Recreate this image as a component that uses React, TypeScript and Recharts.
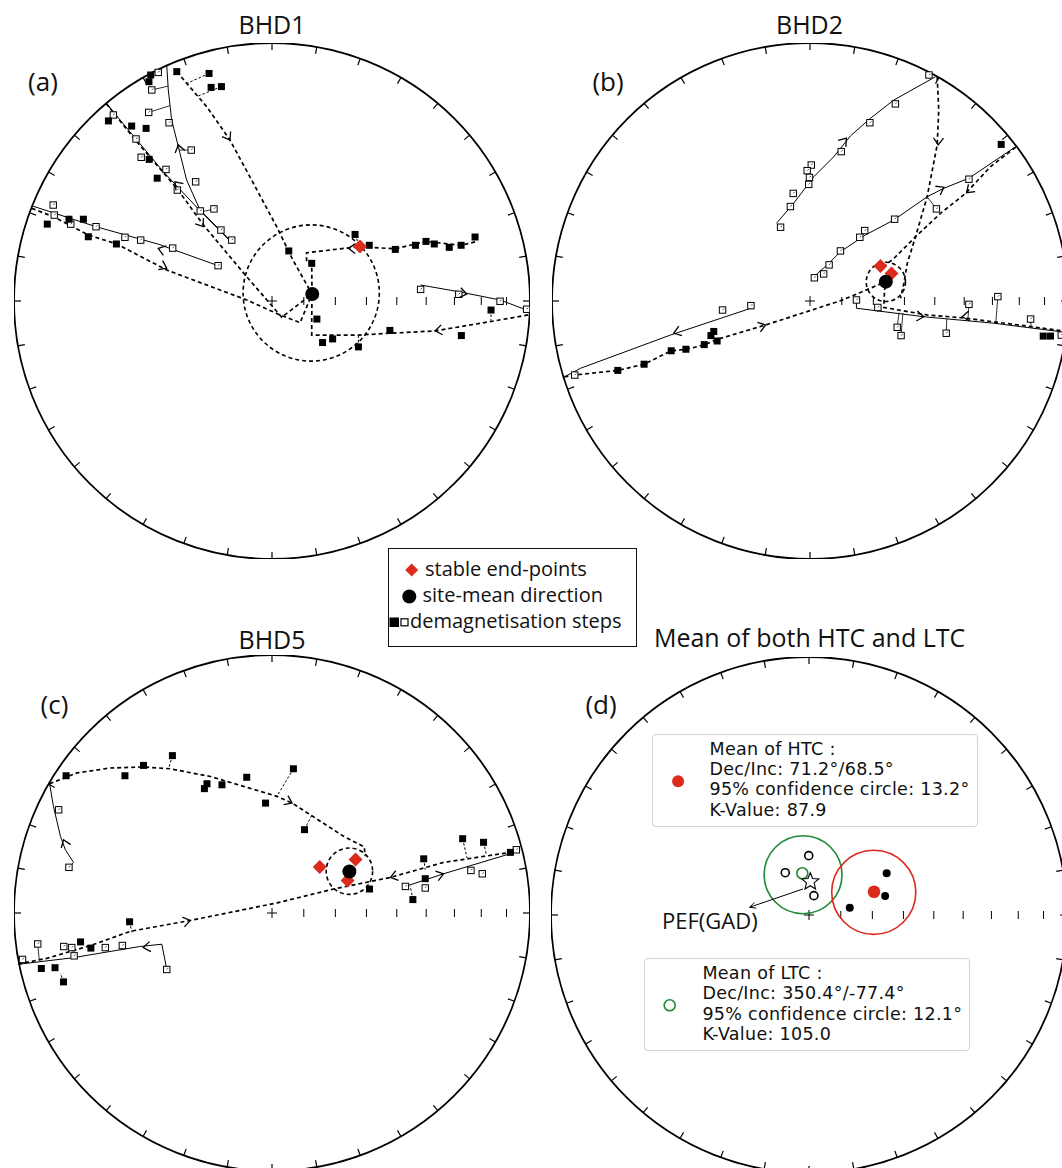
import React from "react";
import { ScatterChart, Scatter, XAxis, YAxis } from "recharts";

type Pt = [number, number];
type Arrow = [number, number, number]; // x, y, heading in degrees (0 = east, counter-clockwise)

const R = 258;
const PAD = 10;
const SIZE = 2 * R + 2 * PAD;
const DEG = Math.PI / 180;
const RED = "#dc2b1c";
const GREEN = "#1f8a35";
const FONT = "'Open Sans', sans-serif";

// net furniture
const RIM_TICKS = [0, 10, 20, 30, 40, 50, 60, 70, 80, 90, 100, 110, 120, 130, 140, 150, 160, 170,
  180, 190, 200, 210, 220, 230, 240, 250, 260, 270, 280, 290, 300, 310, 320, 330, 340, 350];
const INC_TICKS = [80, 70, 60, 50, 40, 30, 20, 10];

// ---------- (a) BHD1 ----------
const A_FILLED: Pt[] = [
  [-0.47, 0.876], [-0.477, 0.85], [-0.369, 0.889], [-0.244, 0.882], [-0.236, 0.828], [-0.196, 0.831],
  [-0.634, 0.698], [-0.544, 0.678], [-0.488, 0.669], [-0.476, 0.549], [-0.445, 0.476],
  [-0.871, 0.298], [-0.787, 0.317], [-0.731, 0.317], [-0.712, 0.249], [-0.603, 0.221],
  [0.065, 0.194], [0.154, 0.146], [0.322, 0.258], [0.377, 0.216], [0.478, 0.2], [0.556, 0.216],
  [0.597, 0.231], [0.629, 0.221], [0.687, 0.208], [0.733, 0.216], [0.787, 0.248],
  [0.174, -0.07], [0.196, -0.161], [0.235, -0.147], [0.335, -0.178], [0.457, -0.114], [0.734, -0.134], [0.849, -0.035],
];
const A_OPEN: Pt[] = [
  [-0.441, 0.886], [-0.466, 0.818], [-0.478, 0.731], [-0.399, 0.691], [-0.313, 0.585], [-0.296, 0.462], [-0.225, 0.357],
  [-0.615, 0.721], [-0.527, 0.628], [-0.507, 0.557], [-0.411, 0.51], [-0.367, 0.43], [-0.278, 0.349], [-0.198, 0.275], [-0.156, 0.236],
  [-0.848, 0.372], [-0.844, 0.333], [-0.78, 0.298], [-0.682, 0.288], [-0.57, 0.247], [-0.509, 0.236], [-0.385, 0.205], [-0.209, 0.137],
  [0.576, 0.045], [0.724, 0.026], [0.884, -0.001], [0.987, -0.032],
];
const A_DIAMONDS: Pt[] = [[0.341, 0.211]];
const A_MEAN: Pt[] = [[0.156, 0.027]];
const A_CIRCLE = [{ x: 0.152, y: 0.031, r: 0.264 }];
const A_SOLID: Pt[][] = [
  [[-0.643, 0.766], [-0.527, 0.628], [-0.42, 0.5], [-0.278, 0.349], [-0.16, 0.23]],
  [[-0.408, 0.915], [-0.402, 0.818], [-0.389, 0.702], [-0.363, 0.598], [-0.331, 0.469], [-0.279, 0.353], [-0.163, 0.236]],
  [[-0.931, 0.369], [-0.682, 0.288], [-0.44, 0.22], [-0.209, 0.137]],
  [[0.576, 0.062], [0.724, 0.036], [0.884, 0.004], [0.987, -0.035]],
];
const A_DASHED: Pt[][] = [
  [[-0.643, 0.766], [-0.524, 0.617], [-0.369, 0.437], [-0.266, 0.295], [-0.098, 0.094], [0.038, -0.063], [0.155, 0.027]],
  [[-0.931, 0.359], [-0.848, 0.327], [-0.712, 0.256], [-0.602, 0.221], [-0.408, 0.12], [-0.098, 0.004], [0.031, -0.054], [0.109, -0.084], [0.155, 0.027]],
  [[-0.369, 0.889], [-0.253, 0.753], [-0.163, 0.624], [-0.072, 0.456], [0.018, 0.288], [0.081, 0.159], [0.155, 0.027]],
  [[0.787, 0.229], [0.733, 0.216], [0.597, 0.231], [0.477, 0.202], [0.341, 0.211], [0.134, 0.187], [0.134, 0.151], [0.154, 0.143], [0.155, 0.027]],
  [[0.993, -0.054], [0.845, -0.08], [0.632, -0.116], [0.457, -0.125], [0.335, -0.132], [0.154, -0.132], [0.154, -0.074], [0.155, 0.027]],
];
const A_SOLID_LINKS: Pt[][] = [
  [[-0.466, 0.818], [-0.402, 0.833]], [[-0.478, 0.731], [-0.396, 0.757]],
  [[-0.313, 0.585], [-0.36, 0.585]], [[-0.225, 0.357], [-0.274, 0.345]],
];
const A_DASHED_LINKS: Pt[][] = [
  [[-0.244, 0.882], [-0.331, 0.843]], [[-0.196, 0.831], [-0.292, 0.792]],
  [[0.849, -0.035], [0.849, -0.075]], [[0.335, -0.178], [0.335, -0.132]], [[0.322, 0.258], [0.335, 0.222]],
];
const A_ARROWS: Arrow[] = [
  [-0.363, 0.605, 104], [-0.376, 0.462, 132], [-0.266, 0.288, -54], [-0.441, 0.204, 162], [-0.408, 0.127, -26],
  [-0.163, 0.624, -59], [0.296, 0.204, 178], [0.632, -0.116, 189], [0.755, 0.027, -11],
];

// ---------- (b) BHD2 ----------
const B_FILLED: Pt[] = [
  [0.741, 0.607], [-0.745, -0.269], [-0.643, -0.245], [-0.538, -0.193], [-0.481, -0.187], [-0.41, -0.169],
  [-0.384, -0.134], [-0.373, -0.118], [-0.36, -0.155], [0.904, -0.136], [0.932, -0.136],
];
const B_OPEN: Pt[] = [
  [0.461, 0.876], [0.331, 0.764], [0.232, 0.691], [0.121, 0.579], [0.005, 0.527], [-0.011, 0.505], [-0.002, 0.479],
  [-0.005, 0.452], [-0.065, 0.417], [-0.076, 0.366], [-0.114, 0.286],
  [0.616, 0.472], [0.49, 0.357], [0.328, 0.317], [0.212, 0.273], [0.193, 0.247], [0.118, 0.194], [0.074, 0.14], [0.053, 0.105], [0.017, 0.09],
  [0.18, 0.004], [0.263, -0.025], [0.338, -0.102], [0.353, -0.134], [0.528, -0.125], [0.616, -0.013], [0.728, 0.017], [0.855, -0.07], [0.974, -0.132],
  [-0.339, -0.035], [-0.229, -0.018], [-0.912, -0.287],
];
const B_DIAMONDS: Pt[] = [[0.273, 0.136], [0.316, 0.107]];
const B_MEAN: Pt[] = [[0.294, 0.075]];
const B_CIRCLE = [{ x: 0.294, y: 0.074, r: 0.076 }];
const B_SOLID: Pt[][] = [
  [[0.486, 0.869], [0.325, 0.779], [0.234, 0.708], [0.157, 0.64], [0.092, 0.559], [0.015, 0.482], [-0.063, 0.379], [-0.13, 0.301]],
  [[0.797, 0.598], [0.616, 0.476], [0.519, 0.437], [0.454, 0.404], [0.325, 0.314], [0.215, 0.256], [0.118, 0.191], [0.073, 0.146], [0.015, 0.094]],
  [[0.18, 0.0], [0.18, -0.028], [0.441, -0.061], [0.712, -0.086], [0.971, -0.119]],
  [[-0.229, -0.028], [-0.541, -0.132], [-0.89, -0.261], [-0.952, -0.294]],
];
const B_DASHED: Pt[][] = [
  [[0.797, 0.596], [0.7, 0.521], [0.603, 0.417], [0.506, 0.34], [0.409, 0.249], [0.325, 0.165], [0.293, 0.14]],
  [[0.493, 0.869], [0.499, 0.74], [0.493, 0.605], [0.454, 0.404], [0.409, 0.249], [0.377, 0.146], [0.364, 0.069], [0.351, 0.01]],
  [[0.971, -0.115], [0.855, -0.099], [0.59, -0.065], [0.454, -0.054], [0.286, -0.025], [0.289, 0.043], [0.294, 0.075]],
  [[-0.952, -0.294], [-0.912, -0.287], [-0.745, -0.269], [-0.643, -0.245], [-0.538, -0.193], [-0.478, -0.187], [-0.406, -0.169],
    [-0.367, -0.151], [-0.172, -0.093], [0.118, 0.001], [0.2, 0.035], [0.294, 0.075]],
];
const B_SOLID_LINKS: Pt[][] = [
  [[0.49, 0.357], [0.454, 0.404]], [[0.338, -0.102], [0.345, -0.045]], [[0.353, -0.134], [0.36, -0.047]],
  [[0.528, -0.125], [0.53, -0.07]], [[0.616, -0.013], [0.612, -0.076]], [[0.728, 0.017], [0.72, -0.087]],
  [[0.855, -0.07], [0.857, -0.101]], [[0.263, -0.025], [0.263, -0.042]],
];
const B_DASHED_LINKS: Pt[][] = [];
const B_ARROWS: Arrow[] = [
  [0.141, 0.631, 51], [0.519, 0.441, 29], [0.607, 0.42, 222], [0.497, 0.605, 268],
  [0.59, -0.061, 186], [0.441, -0.061, -6], [-0.528, -0.125, 199], [-0.172, -0.093, 17],
];

// ---------- (c) BHD5 ----------
const C_FILLED: Pt[] = [
  [-0.798, 0.532], [-0.57, 0.532], [-0.498, 0.572], [-0.386, 0.61], [-0.252, 0.501], [-0.262, 0.482], [-0.194, 0.497],
  [-0.098, 0.526], [0.083, 0.559], [-0.025, 0.426], [0.126, 0.323],
  [0.378, 0.093], [0.588, 0.21], [0.594, 0.133], [0.546, 0.052], [0.739, 0.288], [0.82, 0.274], [0.924, 0.235],
  [-0.552, -0.034], [-0.742, -0.112], [-0.702, -0.136], [-0.894, -0.215], [-0.841, -0.212], [-0.808, -0.267],
];
const C_OPEN: Pt[] = [
  [-0.827, 0.4], [-0.787, 0.177], [0.517, 0.103], [0.594, 0.097], [0.771, 0.165], [0.815, 0.152], [0.947, 0.245],
  [-0.967, -0.18], [-0.908, -0.12], [-0.807, -0.13], [-0.776, -0.134], [-0.767, -0.166], [-0.646, -0.134], [-0.58, -0.126], [-0.408, -0.219],
];
const C_DIAMONDS: Pt[] = [[0.185, 0.178], [0.324, 0.207], [0.293, 0.126]];
const C_MEAN: Pt[] = [[0.3, 0.161]];
const C_CIRCLE = [{ x: 0.3, y: 0.162, r: 0.09 }];
const C_SOLID: Pt[][] = [
  [[-0.862, 0.501], [-0.847, 0.413], [-0.82, 0.297], [-0.801, 0.245], [-0.769, 0.196], [-0.787, 0.177]],
  [[-0.977, -0.198], [-0.776, -0.174], [-0.513, -0.13], [-0.427, -0.121], [-0.408, -0.218]],
  [[0.517, 0.103], [0.665, 0.152], [0.924, 0.23], [0.962, 0.245]],
];
const C_DASHED: Pt[][] = [
  [[-0.862, 0.501], [-0.756, 0.543], [-0.627, 0.562], [-0.498, 0.566], [-0.394, 0.559], [-0.239, 0.529], [-0.11, 0.491],
    [0.019, 0.452], [0.078, 0.426], [0.148, 0.381], [0.278, 0.297], [0.358, 0.256], [0.36, 0.22]],
  [[-0.984, -0.198], [-0.87, -0.175], [-0.7, -0.125], [-0.549, -0.071], [-0.317, -0.029], [0.019, 0.039], [0.239, 0.093],
    [0.381, 0.122], [0.459, 0.138], [0.665, 0.196], [0.924, 0.235], [0.962, 0.248]],
];
const C_SOLID_LINKS: Pt[][] = [[[-0.908, -0.12], [-0.902, -0.184]]];
const C_DASHED_LINKS: Pt[][] = [
  [[0.588, 0.21], [0.594, 0.168]], [[0.739, 0.288], [0.756, 0.213]], [[0.82, 0.274], [0.831, 0.226]],
  [[0.546, 0.052], [0.536, 0.104]], [[-0.386, 0.61], [-0.4, 0.563]], [[0.083, 0.559], [0.019, 0.452]],
  [[0.126, 0.323], [0.154, 0.379]], [[-0.552, -0.034], [-0.543, -0.075]], [[-0.808, -0.267], [-0.82, -0.233]],
];
const C_ARROWS: Arrow[] = [
  [0.078, 0.426, -25], [-0.808, 0.284, 110], [-0.317, -0.029, 12], [0.459, 0.138, 196], [-0.499, -0.134, 188], [0.665, 0.152, 17],
];

// ---------- (d) means ----------
const D_HTC_SITES: Pt[] = [[0.301, 0.162], [0.295, 0.074], [0.158, 0.028]];
const D_LTC_SITES: Pt[] = [[-0.001, 0.23], [-0.092, 0.164], [0.019, 0.075]];
const D_HTC_MEAN: Pt[] = [[0.252, 0.09]];
const D_LTC_MEAN: Pt[] = [[-0.026, 0.162]];
const D_HTC_CIRCLE = [{ x: 0.251, y: 0.088, r: 0.163 }];
const D_LTC_CIRCLE = [{ x: -0.023, y: 0.156, r: 0.151 }];
const D_GAD: Pt[] = [[0.005, 0.129]];
const D_POINTER: Pt[] = [[-0.023, 0.101], [-0.23, 0.03]];
const D_POINTER_HEAD: Arrow[] = [[-0.23, 0.03, 199]];

const HTC_LINES = ["Mean of HTC :", "Dec/Inc: 71.2°/68.5°", "95% confidence circle: 13.2°", "K-Value: 87.9"];
const LTC_LINES = ["Mean of LTC :", "Dec/Inc: 350.4°/-77.4°", "95% confidence circle: 12.1°", "K-Value: 105.0"];

const toXY = (pts: Pt[]) => pts.map(([x, y]) => ({ x, y }));
const toArrows = (a: Arrow[]) => a.map(([x, y, dir]) => ({ x, y, dir }));
const RIM_DATA = RIM_TICKS.map((az) => ({ x: Math.sin(az * DEG), y: Math.cos(az * DEG), az }));
const INC_DATA = INC_TICKS.map((inc) => ({ x: Math.SQRT2 * Math.sin(((90 - inc) / 2) * DEG), y: 0 }));

const SOLID_LINE = { stroke: "#000", strokeWidth: 1 };
const DASHED_LINE = { stroke: "#000", strokeWidth: 1.7, strokeDasharray: "4 3" };
const SOLID_LINK = { stroke: "#000", strokeWidth: 0.8 };
const DASHED_LINK = { stroke: "#000", strokeWidth: 1, strokeDasharray: "2.5 2" };

const noShape = () => <g />;
const primitive = (p: any) => <circle cx={p.cx} cy={p.cy} r={R} fill="none" stroke="#000" strokeWidth={1.8} />;
const rimTick = (p: any) => {
  const a = p.payload.az * DEG;
  return <line x1={p.cx} y1={p.cy} x2={p.cx - 7 * Math.sin(a)} y2={p.cy + 7 * Math.cos(a)} stroke="#000" strokeWidth={1.2} />;
};
const incTick = (p: any) => <line x1={p.cx} y1={p.cy - 4} x2={p.cx} y2={p.cy + 4} stroke="#000" strokeWidth={1} />;
const cross = (p: any) => (
  <g stroke="#000" strokeWidth={1}>
    <line x1={p.cx - 5} y1={p.cy} x2={p.cx + 5} y2={p.cy} />
    <line x1={p.cx} y1={p.cy - 5} x2={p.cx} y2={p.cy + 5} />
  </g>
);
const filledSquare = (p: any) => <rect x={p.cx - 3.5} y={p.cy - 3.5} width={7} height={7} fill="#000" />;
const openSquare = (p: any) => (
  <g>
    <rect x={p.cx - 3.2} y={p.cy - 3.2} width={6.4} height={6.4} fill="#fff" stroke="#000" strokeWidth={1} />
    <line x1={p.cx} y1={p.cy} x2={p.cx + 1.5} y2={p.cy - 1.5} stroke="#000" strokeWidth={0.7} />
  </g>
);
const diamond = (p: any) => (
  <polygon points={`${p.cx},${p.cy - 7} ${p.cx + 7},${p.cy} ${p.cx},${p.cy + 7} ${p.cx - 7},${p.cy}`} fill={RED} />
);
const meanDot = (p: any) => <circle cx={p.cx} cy={p.cy} r={7} fill="#000" />;
const dashedCircle = (p: any) => (
  <circle cx={p.cx} cy={p.cy} r={p.payload.r * R} fill="none" stroke="#000" strokeWidth={1.6} strokeDasharray="4 3" />
);
const makeChevron = (len: number, half: number, width: number) => (p: any) => {
  const t = p.payload.dir * DEG;
  const dx = Math.cos(t);
  const dy = -Math.sin(t);
  const bx = p.cx - len * dx;
  const by = p.cy - len * dy;
  return (
    <polyline
      points={`${bx - half * dy},${by + half * dx} ${p.cx},${p.cy} ${bx + half * dy},${by - half * dx}`}
      fill="none"
      stroke="#000"
      strokeWidth={width}
    />
  );
};
const chevron = makeChevron(7, 5, 1.3);
const smallHead = makeChevron(6, 3, 1);
const colorCircle = (color: string) => (p: any) => (
  <circle cx={p.cx} cy={p.cy} r={p.payload.r * R} fill="none" stroke={color} strokeWidth={1.6} />
);
const blackDot = (p: any) => <circle cx={p.cx} cy={p.cy} r={4} fill="#000" />;
const ringDot = (p: any) => <circle cx={p.cx} cy={p.cy} r={4} fill="#fff" stroke="#000" strokeWidth={1.6} />;
const redDot = (p: any) => <circle cx={p.cx} cy={p.cy} r={6.3} fill={RED} />;
const greenRing = (p: any) => <circle cx={p.cx} cy={p.cy} r={5.5} fill="none" stroke={GREEN} strokeWidth={1.6} />;
const star = (p: any) => {
  const pts: string[] = [];
  for (let i = 0; i < 10; i++) {
    const rr = i % 2 === 0 ? 9 : 4;
    const a = (-90 + i * 36) * DEG;
    pts.push(`${p.cx + rr * Math.cos(a)},${p.cy + rr * Math.sin(a)}`);
  }
  return <polygon points={pts.join(" ")} fill="#fff" stroke="#000" strokeWidth={1.1} />;
};

type NetProps = {
  left: number;
  top: number;
  filled?: Pt[];
  open?: Pt[];
  diamonds?: Pt[];
  mean?: Pt[];
  circle?: { x: number; y: number; r: number }[];
  solid?: Pt[][];
  dashed?: Pt[][];
  solidLinks?: Pt[][];
  dashedLinks?: Pt[][];
  arrows?: Arrow[];
  children?: React.ReactNode;
};

function Stereonet({
  left, top, filled = [], open = [], diamonds = [], mean = [], circle = [],
  solid = [], dashed = [], solidLinks = [], dashedLinks = [], arrows = [], children,
}: NetProps) {
  return (
    <div style={{ position: "absolute", left, top }}>
      <ScatterChart width={SIZE} height={SIZE} margin={{ top: PAD, right: PAD, bottom: PAD, left: PAD }}>
        <XAxis type="number" dataKey="x" domain={[-1, 1]} hide allowDataOverflow />
        <YAxis type="number" dataKey="y" domain={[-1, 1]} hide allowDataOverflow />
        <Scatter data={[{ x: 0, y: 0 }]} shape={primitive} isAnimationActive={false} />
        <Scatter data={RIM_DATA} shape={rimTick} isAnimationActive={false} />
        <Scatter data={[{ x: 0, y: 0 }]} shape={cross} isAnimationActive={false} />
        <Scatter data={INC_DATA} shape={incTick} isAnimationActive={false} />
        {solid.map((p, i) => (
          <Scatter key={`s${i}`} data={toXY(p)} line={SOLID_LINE} shape={noShape} isAnimationActive={false} />
        ))}
        {dashed.map((p, i) => (
          <Scatter key={`d${i}`} data={toXY(p)} line={DASHED_LINE} shape={noShape} isAnimationActive={false} />
        ))}
        {solidLinks.map((p, i) => (
          <Scatter key={`sl${i}`} data={toXY(p)} line={SOLID_LINK} shape={noShape} isAnimationActive={false} />
        ))}
        {dashedLinks.map((p, i) => (
          <Scatter key={`dl${i}`} data={toXY(p)} line={DASHED_LINK} shape={noShape} isAnimationActive={false} />
        ))}
        <Scatter data={circle} shape={dashedCircle} isAnimationActive={false} />
        <Scatter data={toXY(open)} shape={openSquare} isAnimationActive={false} />
        <Scatter data={toXY(filled)} shape={filledSquare} isAnimationActive={false} />
        <Scatter data={toArrows(arrows)} shape={chevron} isAnimationActive={false} />
        <Scatter data={toXY(diamonds)} shape={diamond} isAnimationActive={false} />
        <Scatter data={toXY(mean)} shape={meanDot} isAnimationActive={false} />
        {children}
      </ScatterChart>
    </div>
  );
}

function Text({ x, y, size, children, center = true, family = FONT }: {
  x: number; y: number; size: number; children: React.ReactNode; center?: boolean; family?: string;
}) {
  return (
    <div
      style={{
        position: "absolute",
        left: x,
        top: y,
        fontSize: size,
        fontFamily: family,
        lineHeight: 1,
        whiteSpace: "nowrap",
        color: "#111",
        transform: center ? "translate(-50%, -52%)" : "translateY(-60%)",
      }}
    >
      {children}
    </div>
  );
}

function InfoBox({ left, top, width, height, lines, marker }: {
  left: number; top: number; width: number; height: number; lines: string[]; marker: React.ReactNode;
}) {
  return (
    <div
      style={{
        position: "absolute",
        left,
        top,
        width,
        height,
        boxSizing: "border-box",
        border: "1.5px solid #d2d2d2",
        borderRadius: 4,
        background: "rgba(255,255,255,0.9)",
      }}
    >
      <svg width={50} height={height - 3} style={{ position: "absolute", left: 0, top: 0 }}>
        {marker}
      </svg>
      {lines.map((l, i) => (
        <div
          key={l}
          style={{
            position: "absolute",
            left: 57,
            top: 6 + i * 20.4,
            fontFamily: "'DejaVu Sans', sans-serif",
            fontSize: 17.5,
            lineHeight: "17.5px",
            letterSpacing: "0.3px",
            whiteSpace: "nowrap",
            color: "#111",
          }}
        >
          {l}
        </div>
      ))}
    </div>
  );
}

export default function App() {
  return (
    <div style={{ position: "absolute", left: 0, top: 0, width: 1062, height: 1168, overflow: "hidden", background: "#fff" }}>
      <Stereonet left={272 - R - PAD} top={301 - R - PAD} filled={A_FILLED} open={A_OPEN} diamonds={A_DIAMONDS}
        mean={A_MEAN} circle={A_CIRCLE} solid={A_SOLID} dashed={A_DASHED} solidLinks={A_SOLID_LINKS}
        dashedLinks={A_DASHED_LINKS} arrows={A_ARROWS} />
      <Stereonet left={809.5 - R - PAD} top={301 - R - PAD} filled={B_FILLED} open={B_OPEN} diamonds={B_DIAMONDS}
        mean={B_MEAN} circle={B_CIRCLE} solid={B_SOLID} dashed={B_DASHED} solidLinks={B_SOLID_LINKS}
        dashedLinks={B_DASHED_LINKS} arrows={B_ARROWS} />
      <Stereonet left={271.7 - R - PAD} top={913.4 - R - PAD} filled={C_FILLED} open={C_OPEN} diamonds={C_DIAMONDS}
        mean={C_MEAN} circle={C_CIRCLE} solid={C_SOLID} dashed={C_DASHED} solidLinks={C_SOLID_LINKS}
        dashedLinks={C_DASHED_LINKS} arrows={C_ARROWS} />
      <Stereonet left={809.3 - R - PAD} top={915 - R - PAD}>
        <Scatter data={D_LTC_CIRCLE} shape={colorCircle(GREEN)} isAnimationActive={false} />
        <Scatter data={D_HTC_CIRCLE} shape={colorCircle(RED)} isAnimationActive={false} />
        <Scatter data={toXY(D_POINTER)} line={{ stroke: "#000", strokeWidth: 1 }} shape={noShape} isAnimationActive={false} />
        <Scatter data={toArrows(D_POINTER_HEAD)} shape={smallHead} isAnimationActive={false} />
        <Scatter data={toXY(D_LTC_SITES)} shape={ringDot} isAnimationActive={false} />
        <Scatter data={toXY(D_HTC_SITES)} shape={blackDot} isAnimationActive={false} />
        <Scatter data={toXY(D_LTC_MEAN)} shape={greenRing} isAnimationActive={false} />
        <Scatter data={toXY(D_GAD)} shape={star} isAnimationActive={false} />
        <Scatter data={toXY(D_HTC_MEAN)} shape={redDot} isAnimationActive={false} />
      </Stereonet>

      <Text x={272} y={25} size={25}>BHD1</Text>
      <Text x={809.5} y={25} size={25}>BHD2</Text>
      <Text x={272} y={640} size={25}>BHD5</Text>
      <Text x={809.6} y={638} size={25}>Mean of both HTC and LTC</Text>
      <Text x={43} y={82} size={26}>(a)</Text>
      <Text x={608} y={82} size={26}>(b)</Text>
      <Text x={54.5} y={705} size={26}>(c)</Text>
      <Text x={601} y={705} size={26}>(d)</Text>
      <Text x={662} y={922} size={22} center={false}>PEF(GAD)</Text>

      <div style={{ position: "absolute", left: 388, top: 548, width: 249, height: 99, boxSizing: "border-box", border: "1.5px solid #111", background: "#fff" }}>
        <svg width={40} height={96} style={{ position: "absolute", left: 0, top: 0 }}>
          <polygon points="22.7,14.5 29.2,21 22.7,27.5 16.2,21" fill={RED} />
          <circle cx={20.3} cy={47.5} r={7} fill="#000" />
          <rect x={0.5} y={68.5} width={9.5} height={9.5} fill="#000" />
          <rect x={12} y={69.8} width={7} height={7} fill="#fff" stroke="#000" strokeWidth={1.2} />
        </svg>
      </div>
      <Text x={425} y={571} size={20} center={false}>stable end-points</Text>
      <Text x={422.5} y={597} size={20} center={false}>site-mean direction</Text>
      <Text x={410} y={623} size={20} center={false}>demagnetisation steps</Text>

      <InfoBox left={651.5} top={733.6} width={326} height={93} lines={HTC_LINES}
        marker={<circle cx={25.1} cy={46.2} r={6} fill={RED} />} />
      <InfoBox left={644.4} top={958} width={326} height={93} lines={LTC_LINES}
        marker={<circle cx={24.7} cy={46.2} r={5.5} fill="none" stroke={GREEN} strokeWidth={1.6} />} />
    </div>
  );
}
